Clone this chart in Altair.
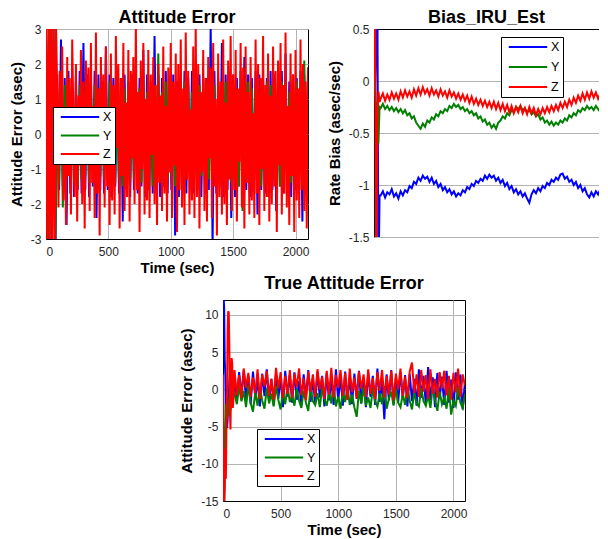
import altair as alt
import pandas as pd

FONT = "Liberation Sans"
SERIES = ["X", "Y", "Z"]
COLORS = ["#0000ff", "#008000", "#ff0000"]

# ---------------- Panel A: Attitude Error ----------------
A_STEP_XY = 15
A_X = [3.4, -3.3, 3.6, -3.5, 3.2, -3.6, 1.7, -1.6, 2.7, -1.5, 1.6, -2.6, 1.8, -1.7, 1.5, -1.8, 1.7, -1.6, 1.8, -1.7,
       2.6, -1.6, 1.7, -1.8, 1.6, -1.5, 1.8, -2.4, 1.7, -1.6, 1.5, -1.7, 2.5, -1.6, 1.7, -1.8, 1.6, -1.5, 1.8, -1.7,
       1.6, -2.5, 1.7, -1.6, 1.5, -1.8, 1.7, -1.6, 1.8, -1.7, 1.6, -1.5, 2.4, -1.8, 1.7, -1.6, 1.5, -1.7, 2.8, -1.6,
       1.7, -1.8, 1.6, -1.5, 1.8, -1.7, 1.6, -1.6, 1.7, -2.9, 1.5, -1.8, 1.7, -1.6, 1.8, -1.7, 1.6, -1.5, 1.8, -1.7,
       1.6, -1.6, 1.7, -1.8, 1.5, -1.7, 1.6, -1.6, 3.1, -3.2, 1.8, -1.7, 1.6, -1.5, 2.6, -1.8, 1.7, -1.6, 1.5, -2.4,
       1.7, -1.8, 1.6, -1.5, 1.8, -1.7, 2.2, -1.6, 1.7, -1.8, 1.6, -1.5, 1.8, -2.3, 1.7, -1.6, 1.5, -1.7, 1.6, -1.8,
       1.8, -1.6, 1.7, -2.2, 1.6, -1.5, 1.8, -1.7, 2.3, -1.6, 1.5, -1.8, 1.7, -1.6, 1.6, -1.7, 1.8, -2.5, 1.7, -1.6,
       1.9]
A_Y = [2.9, -3.1, 3.2, -2.8, 3.0, -3.3, 1.3, -1.4, 1.2, -2.1, 1.4, -1.3, 1.5, -1.2, 1.3, -1.4, 1.2, -1.5, 1.4, -1.3,
       1.3, -1.2, 1.5, -1.4, 1.2, -1.3, 1.4, -1.5, 1.3, -1.2, 1.4, -1.3, 1.2, -1.4, 1.5, -1.2, 1.3, -1.4, 1.2, -1.3,
       1.4, -1.5, 1.3, -1.2, 1.5, -1.4, 1.2, -1.3, 1.4, -1.2, 1.3, -1.4, 1.5, -1.3, 1.2, -1.4, 1.3, -1.5, 1.4, -1.2,
       2.3, -1.3, 1.2, -1.4, 1.5, -1.3, 1.3, -1.2, 1.4, -1.5, 1.2, -1.4, 1.3, -1.3, 1.5, -1.2, 1.4, -1.4, 1.2, -1.3,
       1.3, -1.5, 1.4, -1.2, 1.2, -1.4, 1.5, -1.3, 1.3, -1.2, 1.4, -1.4, 1.2, -1.5, 1.3, -1.3, 1.5, -1.2, 1.4, -1.4,
       1.2, -1.3, 1.3, -1.5, 1.4, -2.2, 1.2, -1.3, 1.5, -1.4, 1.3, -1.2, 1.4, -1.3, 1.2, -1.5, 1.3, -1.4, 1.5, -1.2,
       1.4, -1.3, 1.2, -1.4, 1.3, -1.5, 1.5, -1.2, 1.4, -1.3, 1.2, -1.4, 1.3, -1.3, 1.5, -1.2, 1.4, -1.5, 2.1, -1.3,
       1.6]
A_STEP_Z = 10
A_Z = [3.6, -3.4, 3.5, -3.3, 3.4, -3.5, 3.2, -3.6, 3.3, 1.2,
       -2.1, 1.8, -0.6, 2.5, -1.9, 0.7, -2.6, 2.2, -1.2, 1.6,
       -2.3, 2.7, 0.4, -1.8, 2.0, -2.5, 1.1, -0.9, 2.4, -2.0,
       1.5, -2.7, 2.1, -0.5, 1.9, -2.2, 2.6, -1.4, 0.8, -2.4,
       2.9, -1.7, 1.3, -2.9, 2.2, -0.8, 1.7, -2.1, 2.5, -1.5,
       0.6, -2.6, 2.3, -1.9, 1.4, -2.3, 2.8, -0.4, 2.0, -2.7,
       1.6, -1.2, 2.6, -2.2, 0.9, -1.8, 2.4, -2.5, 1.8, -0.7,
       2.2, -2.0, 3.2, -1.6, 1.2, -2.8, 2.1, -1.0, 2.6, -2.3,
       1.0, -1.9, 2.4, -2.4, 1.7, -0.6, 2.2, -2.0, 1.4, -2.6,
       2.0, -1.4, 1.1, -2.2, 2.5, -1.7, 0.8, -2.5, 1.9, -1.1,
       2.6, -2.4, 1.5, -0.9, 2.3, -2.8, 2.0, -1.6, 2.7, -2.1,
       1.3, -2.6, 2.9, -1.3, 1.8, -2.3, 0.7, -1.9, 2.5, -2.4,
       3.1, -1.8, 2.0, -2.7, 1.2, -1.1, 2.4, -2.2, 1.6, -2.5,
       2.2, -0.7, 1.9, -2.4, 2.6, -1.5, 1.0, -2.9, 2.3, -1.8,
       1.5, -2.3, 2.7, -2.0, 0.9, -2.6, 2.1, -1.3, 2.8, -2.2,
       1.7, -1.6, 2.4, -2.5, 1.3, -0.8, 2.6, -2.1, 1.9, -2.7,
       2.5, -1.4, 1.2, -2.3, 2.2, -1.9, 0.6, -2.4, 2.7, -1.7,
       2.0, -2.6, 1.6, -1.0, 2.8, -2.2, 1.4, -1.8, 2.3, -2.5,
       1.1, -2.0, 2.5, -1.5, 1.8, -2.8, 2.1, -0.9, 2.6, -2.3,
       1.4, -1.7, 2.9, -2.1, 0.8, -2.6, 2.3, -1.2, 1.7, -2.8,
       2.4, -1.9, 1.3, -2.4, 2.7, -1.6, 2.0, -2.2, 1.5, -2.7,
       1.9]

# ---------------- Panel B: Bias_IRU_Est ----------------
B_T0 = [0, 10, 20, 30, 40, 50]
B_X0 = [0.0, 0.0, 0.3, 0.9, -2.0, -1.1]
B_Y0 = [0.0, -0.1, -0.3, -0.2, -0.6, -0.25]
B_Z0 = [0.0, 0.8, -2.0, -0.4, -0.1, -0.2]
B_START, B_STEP = 60, 20
B_X = [-1.10, -1.06, -1.12, -1.07, -1.09, -1.04, -1.11, -1.08, -1.13, -1.06, -1.10, -1.05, -1.07, -1.01, -1.03,
       -0.97, -0.99, -0.93, -0.96, -0.91, -0.94, -0.92, -0.97, -0.93, -0.99, -0.96, -1.02, -0.99, -1.05, -1.02,
       -1.07, -1.04, -1.09, -1.06, -1.11, -1.08, -1.10, -1.05, -1.07, -1.02, -1.04, -0.99, -1.01, -0.96, -0.98,
       -0.94, -0.96, -0.91, -0.94, -0.90, -0.93, -0.91, -0.96, -0.93, -0.98, -0.95, -1.01, -0.98, -1.04, -1.01,
       -1.07, -1.04, -1.09, -1.06, -1.11, -1.08, -1.13, -1.17, -1.09, -1.05, -1.08, -1.03, -1.06, -1.01, -1.03,
       -0.98, -1.00, -0.95, -0.97, -0.93, -0.95, -0.90, -0.89, -0.94, -0.92, -0.97, -0.95, -1.00, -0.97, -1.03,
       -1.00, -1.06, -1.03, -1.09, -1.12, -1.07, -1.11, -1.06, -1.09, -1.04, -1.07, -1.02, -1.05]
B_Y = [-0.26, -0.22, -0.27, -0.24, -0.28, -0.25, -0.29, -0.26, -0.30, -0.27, -0.31, -0.28, -0.33, -0.31, -0.36,
       -0.34, -0.40, -0.43, -0.46, -0.41, -0.44, -0.38, -0.40, -0.35, -0.37, -0.32, -0.34, -0.29, -0.31, -0.27,
       -0.29, -0.24, -0.26, -0.22, -0.25, -0.23, -0.27, -0.25, -0.29, -0.27, -0.31, -0.29, -0.33, -0.31, -0.36,
       -0.34, -0.39, -0.37, -0.42, -0.40, -0.45, -0.42, -0.46, -0.40, -0.38, -0.34, -0.36, -0.31, -0.33, -0.28,
       -0.30, -0.25, -0.27, -0.24, -0.28, -0.26, -0.30, -0.28, -0.32, -0.30, -0.34, -0.32, -0.37, -0.35, -0.40,
       -0.38, -0.42, -0.39, -0.43, -0.40, -0.42, -0.38, -0.40, -0.36, -0.38, -0.33, -0.35, -0.31, -0.33, -0.28,
       -0.30, -0.26, -0.28, -0.24, -0.27, -0.25, -0.28, -0.24, -0.27, -0.30, -0.28, -0.32, -0.29]
B_Z = [-0.17, -0.12, -0.19, -0.13, -0.18, -0.11, -0.17, -0.12, -0.18, -0.10, -0.16, -0.09, -0.15, -0.10, -0.16,
       -0.08, -0.14, -0.07, -0.13, -0.06, -0.12, -0.08, -0.14, -0.07, -0.13, -0.09, -0.15, -0.08, -0.14, -0.10,
       -0.16, -0.09, -0.15, -0.11, -0.17, -0.12, -0.18, -0.13, -0.19, -0.14, -0.21, -0.15, -0.22, -0.17, -0.23,
       -0.18, -0.24, -0.19, -0.25, -0.20, -0.26, -0.20, -0.27, -0.21, -0.28, -0.22, -0.29, -0.23, -0.30, -0.24,
       -0.31, -0.25, -0.30, -0.24, -0.31, -0.26, -0.32, -0.25, -0.31, -0.26, -0.33, -0.27, -0.32, -0.26, -0.31,
       -0.25, -0.30, -0.24, -0.29, -0.23, -0.28, -0.21, -0.26, -0.20, -0.25, -0.18, -0.23, -0.16, -0.21, -0.14,
       -0.19, -0.12, -0.18, -0.11, -0.17, -0.10, -0.16, -0.11, -0.17, -0.12, -0.18, -0.13, -0.16]

# ---------------- Panel C: True Attitude Error ----------------
C_T0 = [0, 5, 10, 15, 20, 25, 30, 35, 40, 45, 50, 55, 60, 65, 70, 75, 80, 85, 90]
C_X0 = [12.5, 12.5, 11.0, 4.0, 2.0, -3.0, -5.0, -5.2, -4.0, -2.0, -1.0, 1.0, 2.0, 0.0, 1.5, -0.5, 1.0, 0.5, -1.0]
C_Y0 = [0.0, -8.0, -15.5, -12.0, -6.0, -2.0, -4.0, -3.5, -1.0, -3.0, -2.5, -3.6, -1.5, -2.8, -0.5, -2.0, -1.0,
        -1.8, -0.8]
C_Z0 = [2.0, -15.5, -15.5, -13.0, -8.0, -12.0, -5.0, 0.0, 8.0, 10.5, 10.3, 6.0, -3.0, -5.4, 1.0, 4.2, 3.5, -2.5,
        -1.5]
C_START, C_STEP = 100, 20
C_X = [1.5, -1.2, 2.3, -0.8, 2.6, -1.5, 1.8, -2.0, 2.4, -1.1, 1.2, -2.3, 2.1, -0.9, 2.7, -1.6, 1.4, -2.1, 2.2, -1.3,
       1.7, -2.4, 2.5, -1.0, 1.9, -1.8, 2.3, -1.4, 1.1, -2.2, 2.0, -1.2, 2.6, -1.7, 1.5, -2.0, 2.4, -1.1, 1.8, -2.3,
       2.2, -1.5, 1.3, -2.1, 2.7, -1.6, 1.9, -2.2, 2.4, -1.4, 1.6, -2.0, 2.1, -1.3, 2.5, -1.9, 1.4, -2.4, 2.2, -1.0,
       1.8, -2.1, 2.8, -1.7, 1.2, -4.0, 2.0, -1.5, 2.6, -2.0, 1.5, -1.8, 2.3, -1.2, 1.9, -2.3, 2.1, -1.6, 1.4, -2.2,
       2.7, -1.1, 1.8, -2.0, 3.0, -1.5, 1.6, -2.4, 2.2, -1.3, 1.7, -2.1, 2.5, -1.8, 1.3, -2.5, 2.3, -1.4, 2.0, -2.7,
       1.1]
C_Y = [-0.5, -2.0, 0.4, -1.6, -0.2, -2.4, 0.6, -1.8, -3.0, -0.4, -2.2, 0.3, -1.5, -2.6, 0.2, -1.9, -0.6, -2.3, 0.5,
       -1.4, -2.7, -0.3, -2.0, 0.4, -1.7, -0.8, -2.2, 0.1, -1.5, -2.5, -0.2, -1.8, -2.9, 0.3, -1.6, -2.1, -0.5, -2.4,
       0.2, -1.3, -2.2, -0.4, -1.9, 0.5, -2.3, -1.0, -2.6, -0.3, -1.7, 0.4, -2.1, -0.7, -2.4, -3.7, -0.2, -1.9, 0.3,
       -2.2, -1.1, -2.5, 0.2, -1.6, -2.3, -0.5, -2.0, 0.4, -2.6, -1.2, -0.3, -2.2, 0.1, -1.8, -2.4, -0.6, -2.1, 0.3,
       -1.5, -2.7, -0.4, -1.9, -2.3, 0.2, -1.6, -2.2, -0.8, -2.5, 0.4, -1.4, -2.9, -0.3, -2.0, -1.1, -2.6, 0.2, -3.4,
       -1.5, -2.2, 0.3, -1.8, -2.5, -0.6]
C_Z = [2.6, -0.8, 1.9, -1.2, 2.8, 0.2, 2.2, -1.0, 1.6, -0.5, 2.7, -1.3, 2.0, 0.4, 2.5, -0.9, 1.4, -1.4, 2.9, 0.1,
       2.3, -1.1, 1.8, -0.6, 2.6, -1.2, 2.1, 0.3, 2.8, -0.8, 1.5, -1.5, 2.4, -0.3, 2.0, -1.0, 2.7, 0.0, 1.7, -1.3,
       2.5, -0.7, 2.9, -1.1, 1.9, 0.2, 2.6, -0.9, 2.2, -1.4, 2.8, -0.4, 1.6, -1.2, 2.4, 0.1, 2.0, -1.0, 2.7, -0.6,
       1.5, -1.3, 2.3, -0.2, 2.6, -1.1, 1.8, -0.7, 2.5, -1.5, 2.1, 0.0, 2.8, -0.9, 1.7, -1.2, 2.4, 3.6, -0.5, 2.0,
       -1.0, 2.6, -0.3, 1.9, -1.3, 2.7, -0.6, 1.4, -1.1, 2.3, 0.1, 2.5, -0.8, 1.8, -1.4, 2.2, -0.4, 2.8, -1.0, 2.0,
       0.5]

X_TICKS = [0, 500, 1000, 1500, 2000]


def frame(parts):
    rows = []
    for name, times, values in parts:
        for t, v in zip(times, values):
            rows.append({"t": t, "v": v, "s": name})
    return pd.DataFrame(rows)


def regular(start, step, values):
    return [start + i * step for i in range(len(values))]


dfA = frame([("X", regular(0, A_STEP_XY, A_X), A_X),
             ("Y", regular(0, A_STEP_XY, A_Y), A_Y),
             ("Z", regular(0, A_STEP_Z, A_Z), A_Z)])
dfB = frame([(s, B_T0 + regular(B_START, B_STEP, v), v0 + v)
             for s, v0, v in zip(SERIES, [B_X0, B_Y0, B_Z0], [B_X, B_Y, B_Z])])
dfC = frame([(s, C_T0 + regular(C_START, C_STEP, v), v0 + v)
             for s, v0, v in zip(SERIES, [C_X0, C_Y0, C_Z0], [C_X, C_Y, C_Z])])

LBL = "datum.value < 0 ? '-' + format(-datum.value, '~g') : format(datum.value, '~g')"


def panel(df, title, ytitle, xdom, ydom, yvals, w, h, lx, ly, toff, rowpad=4.5, open_right=False):
    xs = alt.Scale(domain=xdom, nice=False, zero=False)
    ys = alt.Scale(domain=ydom, nice=False, zero=False)
    cs = alt.Scale(domain=SERIES, range=COLORS)
    leg = alt.Legend(title=None, orient="none", legendX=lx, legendY=ly,
                     symbolType="M-3.2,0H3.2", symbolSize=144, symbolStrokeWidth=2,
                     symbolOffset=17, labelOffset=16, padding=3, rowPadding=rowpad,
                     strokeColor="black", fillColor="white",
                     labelFont=FONT, labelFontSize=12.5, labelColor="black")
    layers = []
    for s in SERIES:
        layers.append(
            alt.Chart(df[df.s == s]).mark_line(strokeWidth=2, clip=True).encode(
                x=alt.X("t:Q", scale=xs, axis=alt.Axis(values=X_TICKS, title="Time (sec)", labelExpr=LBL)),
                y=alt.Y("v:Q", scale=ys, axis=alt.Axis(values=yvals, title=ytitle, labelExpr=LBL)),
                color=alt.Color("s:N", scale=cs, legend=leg),
            )
        )
    if open_right:
        layers.append(
            alt.Chart(df.iloc[:1]).mark_point(opacity=0).encode(
                x=alt.X("t:Q", scale=xs, axis=alt.Axis(orient="top", labels=False, ticks=False, grid=False,
                                                      title=None, domain=True)),
            )
        )
    ch = alt.layer(*layers).properties(title=alt.TitleParams(title, offset=toff), width=w, height=h)
    if open_right:
        ch = ch.properties(view=alt.ViewBackground(strokeOpacity=0))
    return ch


A = panel(dfA, "Attitude Error", "Attitude Error (asec)", [0, 2100], [-3, 3], [-3, -2, -1, 0, 1, 2, 3],
          262, 210, 7, 78, -4)
B = panel(dfB, "Bias_IRU_Est", "Rate Bias (asec/sec)", [0, 2028], [-1.5, 0.5], [-1.5, -1, -0.5, 0, 0.5],
          225, 208, 127, 8, -4, rowpad=6, open_right=True)
C = panel(dfC, "True Attitude Error", "Attitude Error (asec)", [0, 2100], [-15, 12], [-15, -10, -5, 0, 5, 10],
          242, 201, 34, 129, 7)

spacer = alt.Chart(pd.DataFrame({"a": [0]})).mark_point(opacity=0).encode(
    x=alt.value(0), y=alt.value(0)
).properties(width=116, height=10, view=alt.ViewBackground(strokeOpacity=0))

top = alt.hconcat(A, B, spacing=17).resolve_scale(color="independent").resolve_legend(color="independent")
bottom = alt.hconcat(spacer, C, spacing=17).resolve_scale(color="independent").resolve_legend(color="independent")

chart = alt.vconcat(top, bottom, spacing=-2).resolve_scale(color="independent").resolve_legend(
    color="independent"
).properties(
    padding={"left": 0, "top": 0, "right": 0, "bottom": 0}, background="white"
).configure(font=FONT).configure_view(
    stroke="black", strokeWidth=1
).configure_axis(
    labelFont=FONT, labelFontSize=12, labelColor="#262626",
    titleFont=FONT, titleFontSize=15, titleFontWeight="bold", titleColor="black",
    domainColor="black", domainWidth=1, gridColor="#b4b4b4", gridWidth=1,
    ticks=False, labelPadding=5,
).configure_axisY(titlePadding=6).configure_axisX(titlePadding=3, labelPadding=7).configure_title(
    font=FONT, fontSize=18, fontWeight="bold", color="black", frame="group", anchor="middle"
)

chart.save("out.html", embed_options={"renderer": "svg", "actions": False})
